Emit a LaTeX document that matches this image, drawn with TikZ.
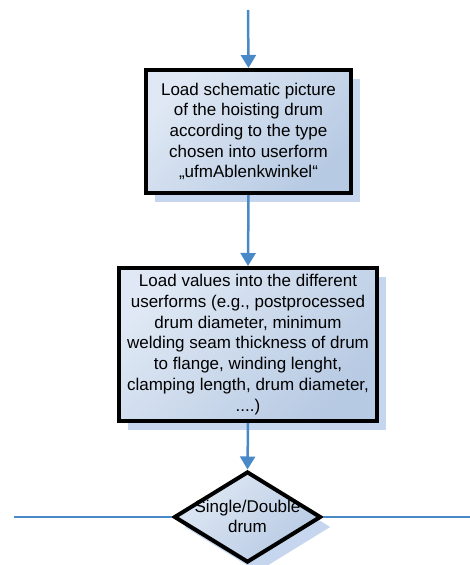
\documentclass[tikz,border=0pt]{standalone}
\usepackage{fontspec}
\setmainfont{Liberation Sans}
\usetikzlibrary{shapes.geometric,arrows.meta,shadows}
\definecolor{flowblue}{HTML}{4A89C8}
\definecolor{filllight}{HTML}{DFE8F4}
\definecolor{filldark}{HTML}{B7CAE3}
\definecolor{shadowblue}{HTML}{C6D6EE}
\tikzset{
  x=1pt,y=1pt,
  boxshape/.style={draw=black, line width=4pt, top color=filllight, bottom color=filldark, shading angle=45,
    drop shadow={shadow xshift=9pt, shadow yshift=-9pt, fill=shadowblue, opacity=1},
    align=center, inner sep=0pt, font=\fontsize{17}{20.7}\selectfont},
  diashape/.style={diamond, draw=black, line width=4pt, top color=filllight, bottom color=filldark, shading angle=45,
    drop shadow={shadow xshift=10pt, shadow yshift=-10pt, fill=shadowblue, opacity=1},
    inner sep=0pt, aspect=1.6},
  flow/.style={draw=flowblue, line width=2.5pt, -{Triangle[width=15pt,length=13pt]}},
  plainline/.style={draw=flowblue, line width=2pt},
  label17/.style={align=center, inner sep=0pt, font=\fontsize{17}{19.5}\selectfont}
}
\begin{document}
\begin{tikzpicture}
\useasboundingbox (0,0) rectangle (470,-565);
\coordinate (start) at (248,-10);
\node[boxshape, minimum width=205, minimum height=123] (b1) at (248.5,-131.5)
  {Load schematic picture\\of the hoisting drum\\according to the type\\chosen into userform\\„ufmAblenkwinkel“};
\node[boxshape, minimum width=258, minimum height=153] (b2) at (248,-344.5)
  {Load values into the different\\userforms (e.g., postprocessed\\drum diameter, minimum\\welding seam thickness of drum\\to flange, winding lenght,\\clamping length, drum diameter,\\....)};
\node[diashape, minimum width=147, minimum height=91] (d) at (247.5,-517) {};
\node[label17] (dt) at (247.5,-516.5) {Single/Double\\drum};
\coordinate (lend) at (14,-517);
\coordinate (rend) at (470,-517);
\draw[flow] (start) -- (b1.north);
\draw[flow] (b1.south) -- (b2.north);
\draw[flow] (b2.south) -- (d.north);
\draw[plainline] (d.west) -- (lend);
\draw[plainline] (d.east) -- (rend);
\end{tikzpicture}
\end{document}
